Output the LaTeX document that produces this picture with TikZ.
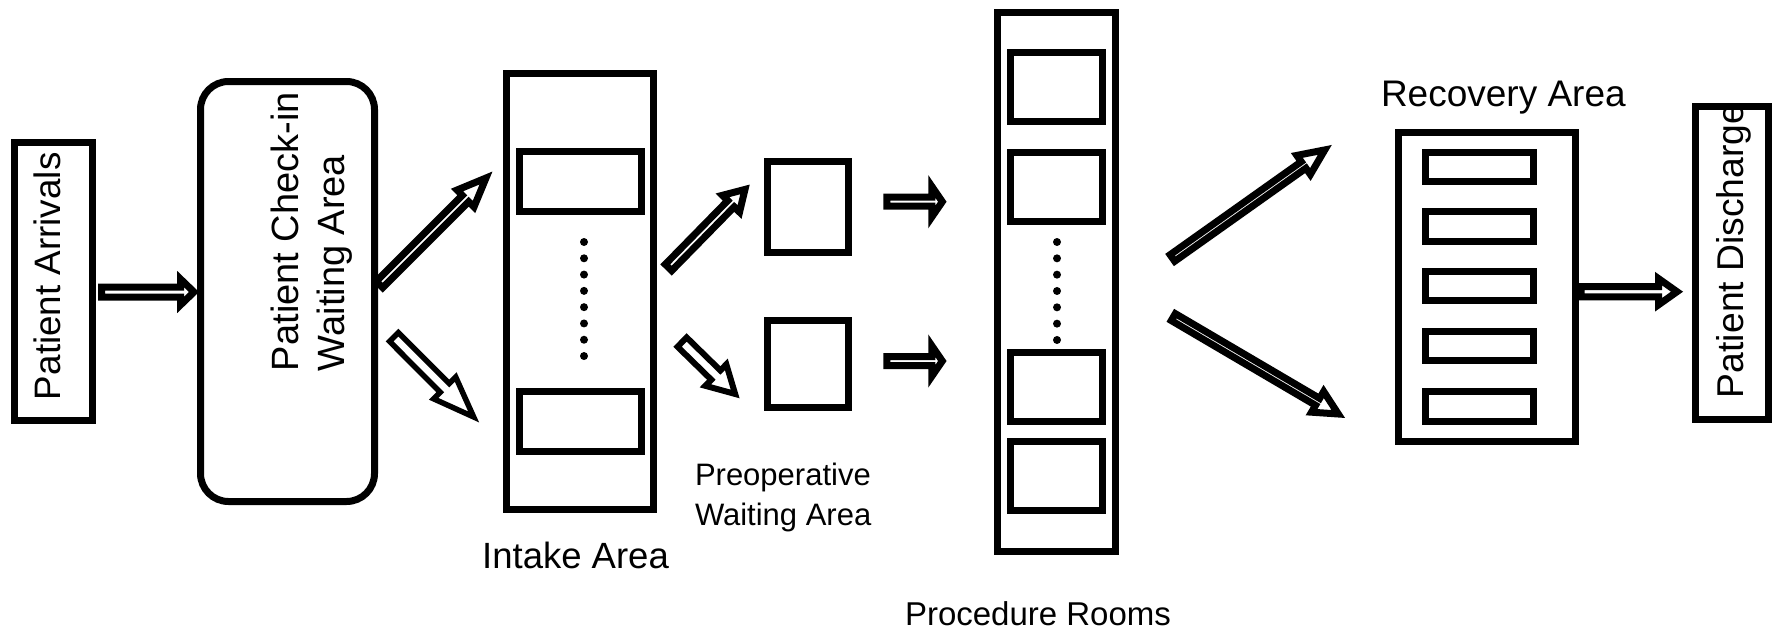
\documentclass[tikz,border=0pt]{standalone}
\usepackage{fontspec}
\setmainfont{Liberation Sans}
\usetikzlibrary{calc}

\tikzset{
  box/.style={draw=black, line width=7pt, inner sep=0pt, outer sep=0pt},
  rbox/.style={box, rounded corners=28pt},
  dotmark/.style={fill=black, circle, inner sep=0pt, minimum size=8pt},
  lbl/.style={inner sep=0pt, outer sep=0pt},
  blockarrowline/.style={draw=black, fill=white, line join=miter, line width=7pt},
}

% Hollow block arrow from #2 (tail) to #3 (tip):
% #4 shaft half width, #5 head half width, #6 head length (all in pt)
\newcommand{\blockarrow}[6][]{%
  \draw[blockarrowline,#1] let \p1=($(#3)-(#2)$), \n1={veclen(\x1,\y1)},
      \n2={atan2(\y1,\x1)} in [shift={(#2)}, rotate=\n2]
    (0pt,#4pt) -- ({\n1-#6pt},#4pt) -- ({\n1-#6pt},#5pt) -- ({\n1},0pt)
    -- ({\n1-#6pt},-#5pt) -- ({\n1-#6pt},-#4pt) -- (0pt,-#4pt) -- cycle;}

\begin{document}
\begin{tikzpicture}[x=1pt, y=-1pt]
\useasboundingbox (0,0) rectangle (1782,634);

% ---- stations ----
\node[box, minimum width=78, minimum height=278] (arrivals) at (53,281) {};
\node[lbl, font=\fontsize{36.8}{46}\selectfont, rotate=90, anchor=base west]
  (arrivalstext) at (60.5,400) {Patient Arrivals};

\node[rbox, minimum width=174, minimum height=420] (checkin) at (287.5,291.5) {};
\node[lbl, font=\fontsize{38}{46}\selectfont, rotate=90, anchor=north west, align=left]
  (checkintext) at (271,371) {Patient Check-in\\Waiting Area};

\node[box, minimum width=147, minimum height=436] (intake) at (580,291.5) {};
\node[box, minimum width=122, minimum height=60] (intakeA) at (580.5,181.5) {};
\node[box, minimum width=122, minimum height=60] (intakeB) at (580.5,421) {};
\foreach \i in {0,...,7}
  \node[dotmark] (intakedot\i) at (584,{242+\i*16.29}) {};
\node[lbl, font=\fontsize{36.5}{45}\selectfont, anchor=base] (intaketext) at (575.5,568) {Intake Area};

\node[box, minimum width=81, minimum height=91] (preopA) at (808,207) {};
\node[box, minimum width=81, minimum height=87] (preopB) at (808,364) {};
\node[lbl, font=\fontsize{31}{40}\selectfont, anchor=north west, align=left]
  (preoptext) at (695,462.8) {Preoperative\\Waiting Area};

\node[box, minimum width=118, minimum height=539] (proc) at (1056.5,282) {};
\node[box, minimum width=92, minimum height=69] (procA) at (1056.5,87) {};
\node[box, minimum width=92, minimum height=69] (procB) at (1056.5,186.75) {};
\node[box, minimum width=92, minimum height=69] (procC) at (1056.5,386.5) {};
\node[box, minimum width=92, minimum height=69] (procD) at (1056.5,475.5) {};
\foreach \i in {0,...,6}
  \node[dotmark] (procdot\i) at (1057,{242+\i*16.33}) {};
\node[lbl, font=\fontsize{33}{40}\selectfont, anchor=base west] (proctext) at (905,625) {Procedure Rooms};

\node[box, minimum width=177, minimum height=309.5] (recovery) at (1486.5,286.75) {};
\foreach \y [count=\k] in {167,226.5,286,346,406.5}
  \node[box, minimum width=108, minimum height=29.7] (bed\k) at (1479,\y) {};
\node[lbl, font=\fontsize{37}{45}\selectfont, anchor=base west] (recoverytext) at (1381,106.7) {Recovery Area};

\node[box, minimum width=73, minimum height=313] (discharge) at (1732,263) {};
\node[lbl, font=\fontsize{37.3}{46}\selectfont, rotate=90, anchor=base west]
  (dischargetext) at (1743,398) {Patient Discharge};

% ---- arrow end points ----
\coordinate (a1s) at (101.5,292);   \coordinate (a1e) at (194,292);
\coordinate (a2s) at (379.5,284.5); \coordinate (a2e) at (486,178);
\coordinate (a3s) at (394,337);     \coordinate (a3e) at (473.9,417.2);
\coordinate (a4s) at (668.5,267.5); \coordinate (a4e) at (745.2,189.2);
\coordinate (a5s) at (682.1,342.1); \coordinate (a5e) at (735.3,394.1);
\coordinate (a6s) at (886.8,201.7); \coordinate (a6e) at (942.3,201.7);
\coordinate (a7s) at (886.8,361);   \coordinate (a7e) at (942.3,361);
\coordinate (a8s) at (1172.4,258);  \coordinate (a8e) at (1324.8,149.9);
\coordinate (a9s) at (1173.3,317.1);\coordinate (a9e) at (1338.3,414);
\coordinate (a10s) at (1581,291.7); \coordinate (a10e) at (1677,291.7);

% ---- flow arrows ----
\blockarrow{a1s}{a1e}{5}{13}{13.5}
\blockarrow{a2s}{a2e}{4.5}{12}{29}
\blockarrow[line width=5.5pt]{a3s}{a3e}{6.25}{15.5}{41}
\blockarrow{a4s}{a4e}{4.5}{12}{20}
\blockarrow[line width=6pt]{a5s}{a5e}{6.5}{15}{27}
\blockarrow{a6s}{a6e}{4.5}{15.3}{10.5}
\blockarrow{a7s}{a7e}{4.5}{15.3}{10.5}
\blockarrow{a8s}{a8e}{4}{11.7}{26}
\blockarrow{a9s}{a9e}{4}{12}{24}
\blockarrow{a10s}{a10e}{5.2}{13.1}{18.5}
\end{tikzpicture}
\end{document}
